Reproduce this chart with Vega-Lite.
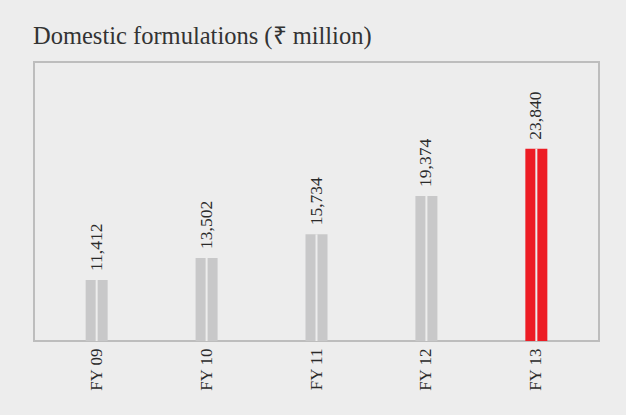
{
  "$schema": "https://vega.github.io/schema/vega-lite/v6.json",
  "width": 565,
  "height": 279,
  "autosize": {"type": "none"},
  "padding": {"left": 34, "top": 62, "right": 27, "bottom": 74},
  "background": "#ededed",
  "title": {
    "text": "Domestic formulations (₹ million)",
    "anchor": "start",
    "font": "Liberation Serif",
    "fontSize": 24.5,
    "fontWeight": "normal",
    "color": "#333333",
    "offset": 13,
    "dx": -1
  },
  "config": {
    "view": {"stroke": "#bdbdbd", "strokeWidth": 2, "fill": "#ededed"}
  },
  "data": {
    "values": [
      {"year": "FY 09", "value": 11412, "current": "no"},
      {"year": "FY 10", "value": 13502, "current": "no"},
      {"year": "FY 11", "value": 15734, "current": "no"},
      {"year": "FY 12", "value": 19374, "current": "no"},
      {"year": "FY 13", "value": 23840, "current": "yes"}
    ]
  },
  "encoding": {
    "x": {
      "field": "year",
      "type": "nominal",
      "sort": null,
      "scale": {"paddingInner": 0, "paddingOuter": 0.07},
      "axis": {
        "title": null,
        "domain": false,
        "ticks": false,
        "labelAngle": -90,
        "labelPadding": 7,
        "labelFont": "Liberation Serif",
        "labelFontSize": 17,
        "labelColor": "#2a2a2a"
      }
    }
  },
  "layer": [
    {
      "mark": {"type": "bar", "size": 22},
      "encoding": {
        "y": {
          "field": "value",
          "type": "quantitative",
          "scale": {"domain": [5644, 32044], "zero": false, "nice": false},
          "axis": null
        },
        "y2": {"datum": 5644},
        "color": {
          "field": "current",
          "type": "nominal",
          "scale": {"domain": ["no", "yes"], "range": ["#c8c8c9", "#ed1c24"]},
          "legend": null
        }
      }
    },
    {
      "mark": {"type": "rule", "color": "#ededed", "strokeWidth": 2},
      "encoding": {
        "y": {"field": "value", "type": "quantitative"},
        "y2": {"datum": 5644}
      }
    },
    {
      "mark": {
        "type": "text",
        "angle": -90,
        "align": "left",
        "baseline": "middle",
        "dx": 9,
        "font": "Liberation Serif",
        "fontSize": 17.5,
        "color": "#2a2a2a"
      },
      "encoding": {
        "y": {"field": "value", "type": "quantitative"},
        "text": {"field": "value", "type": "quantitative", "format": ","}
      }
    }
  ]
}
